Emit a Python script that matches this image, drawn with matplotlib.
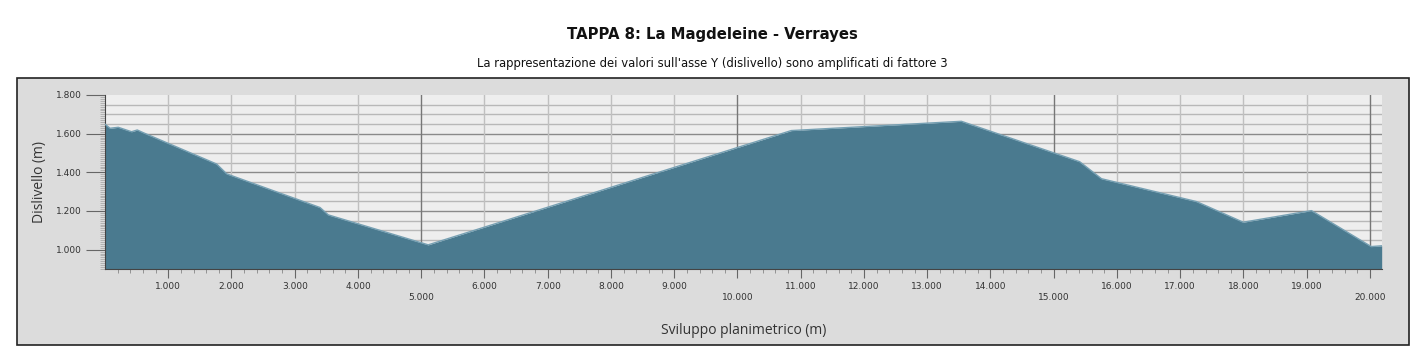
import matplotlib

matplotlib.use("Agg")
import matplotlib.pyplot as plt
import numpy as np
from matplotlib.patches import Rectangle
from matplotlib.ticker import FixedLocator, FuncFormatter

# profilo altimetrico (distanza in m, quota in m)
distanza = [0, 80, 210, 420, 510, 605, 1765, 1925, 3400, 3530, 5110,
            10850, 13540, 15410, 15755, 17255, 17995, 19075, 20020, 20185]
quota = [1649, 1628, 1633, 1610, 1619, 1605, 1443, 1392, 1218, 1180, 1025,
         1616, 1664, 1455, 1367, 1249, 1142, 1202, 1016, 1020]

x_ticks = list(range(1000, 20001, 1000))
y_ticks = [1000, 1200, 1400, 1600, 1800]

TITLE = "TAPPA 8: La Magdeleine - Verrayes"
SUBTITLE = "La rappresentazione dei valori sull'asse Y (dislivello) sono amplificati di fattore 3"

COLOR_FILL = "#4a7a8f"
COLOR_EDGE = "#76a0b3"
COLOR_PANEL = "#dcdcdc"
COLOR_PLOT = "#eeeeee"
COLOR_TEXT = "#333333"

W, H = 1424, 364


def thousands(v, pos=None):
    return f"{int(v):,}".replace(",", ".")


fig = plt.figure(figsize=(W / 100, H / 100), dpi=100)
fig.patch.set_facecolor("white")

# pannello grigio con bordo
fig.patches.append(Rectangle((17 / W, 1 - 345 / H), (1409 - 17) / W, (345 - 78) / H,
                             transform=fig.transFigure, facecolor=COLOR_PANEL,
                             edgecolor="#222222", linewidth=1.2, zorder=-5))

fig.text(0.5, 1 - 35 / H, TITLE, ha="center", va="center", fontsize=10.7,
         fontweight="bold", color="#111111")
fig.text(0.5, 1 - 64 / H, SUBTITLE, ha="center", va="center", fontsize=8.4, color="#111111")

ax = fig.add_axes([105 / W, 1 - 269 / H, (1382 - 105) / W, (269 - 95) / H])
ax.set_zorder(5)
ax.set_facecolor(COLOR_PLOT)
ax.set_xlim(0, 20190)
ax.set_ylim(900, 1800)

# griglia
for yv in np.arange(950, 1800, 50):
    dark = yv % 200 == 0
    ax.axhline(yv, color="#8a8a8a" if dark else "#b8b8b8", linewidth=1.0, zorder=1)
for xv in x_ticks:
    dark = xv % 5000 == 0
    ax.axvline(xv, color="#777777" if dark else "#c0c0c0", linewidth=1.0, zorder=1)

ax.fill_between(distanza, quota, 900, color=COLOR_FILL, zorder=2, linewidth=0)
ax.plot(distanza, quota, color=COLOR_EDGE, linewidth=1.0, zorder=3)

for side in ["top", "right"]:
    ax.spines[side].set_visible(False)
ax.spines["left"].set_color("#444444")
ax.spines["bottom"].set_color("#444444")

ax.xaxis.set_major_locator(FixedLocator(x_ticks))
ax.xaxis.set_minor_locator(FixedLocator(list(range(200, 20190, 200))))
ax.xaxis.set_major_formatter(FuncFormatter(thousands))
ax.yaxis.set_major_locator(FixedLocator(y_ticks))
ax.yaxis.set_minor_locator(FixedLocator(list(range(900, 1801, 10))))
ax.yaxis.set_major_formatter(FuncFormatter(thousands))

ax.tick_params(axis="both", which="major", labelsize=6.5, labelcolor=COLOR_TEXT,
               color="#666666")
ax.tick_params(axis="x", which="major", length=6.5, pad=3)
ax.tick_params(axis="x", which="minor", length=3, color="#888888")
ax.tick_params(axis="y", which="major", length=14, pad=3)
ax.tick_params(axis="y", which="minor", length=3.5, color="#aaaaaa", width=0.6)

for tick, xv in zip(ax.xaxis.get_major_ticks(), x_ticks):
    if xv % 5000 == 0:
        tick.tick1line.set_markersize(14)
        tick.set_pad(11)

ax.set_xlabel("Sviluppo planimetrico (m)", fontsize=10, color=COLOR_TEXT,
              family="Open Sans", labelpad=15)
ax.set_ylabel("Dislivello (m)", fontsize=10, color=COLOR_TEXT, family="Open Sans",
              labelpad=6)

fig.savefig("out.png", dpi=100, facecolor=fig.get_facecolor())
